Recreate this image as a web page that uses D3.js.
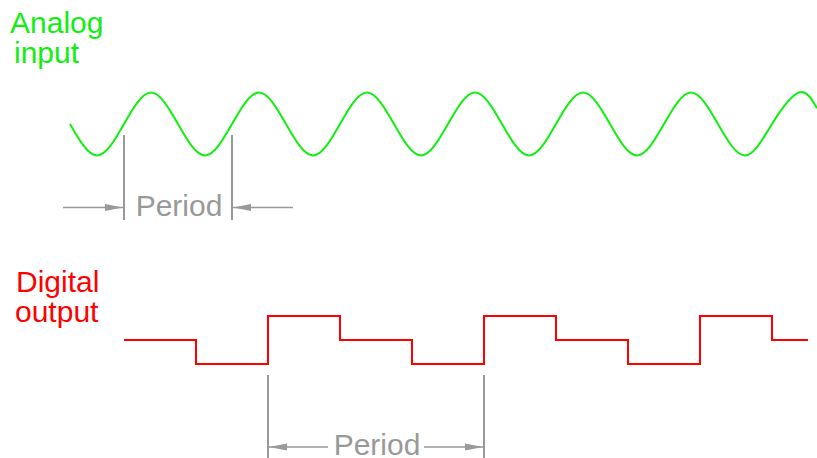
<!DOCTYPE html>
<html>
<head>
<meta charset="utf-8">
<script src="https://cdn.jsdelivr.net/npm/d3@7"></script>
<style>
  html, body { margin: 0; padding: 0; background: #fff; }
  svg { display: block; }
  text { font-family: "Liberation Sans", Arial, Helvetica, sans-serif; }
</style>
</head>
<body>
<svg id="chart" width="817" height="458"></svg>
<script>
// ---- data (time in units; sine quarter-period = 3 units, sample step = 8 units) ----
const analogTime   = [0,3,6,9,12,15,18,21,24,27,30,33,36,39,42,45,48,51,54,57,60,63,66,69,72,75,78,81,83];
const analogValue  = [0,-1,0,1,0,-1,0,1,0,-1,0,1,0,-1,0,1,0,-1,0,1,0,-1,0,1,0,-1,0,1,0.5];
const digitalTime  = [6,14,22,30,38,46,54,62,70,78,82];
const digitalValue = [0,-1,1,0,-1,1,0,-1,1,0,0];
const analogPeriod  = [6, 18];
const digitalPeriod = [22, 46];
const labels = { analog: ["Analog", "input"], digital: ["Digital", "output"], period: "Period" };

const GREEN = "#11ee11", RED = "#ff0000", GRAY = "#999999";

const svg = d3.select("#chart");
const x = d3.scaleLinear().domain([0, 83]).range([70, 817]);
const yA = d3.scaleLinear().domain([-1, 1]).range([155.5, 92.5]);
const yD = d3.scaleLinear().domain([-1, 1]).range([364, 316]);

const defs = svg.append("defs");
defs.append("marker").attr("id", "arrow")
  .attr("viewBox", "0 0 18 8").attr("refX", 18).attr("refY", 4)
  .attr("markerWidth", 18).attr("markerHeight", 8)
  .attr("markerUnits", "userSpaceOnUse").attr("orient", "auto")
  .append("path").attr("d", "M0,0.6 L18,4 L0,7.4 Z").attr("fill", GRAY);

// analog sine
const aPts = analogTime.map((t, i) => [t, analogValue[i]]);
svg.append("path")
  .attr("d", d3.line().x(d => x(d[0])).y(d => yA(d[1])).curve(d3.curveNatural)(aPts))
  .attr("fill", "none").attr("stroke", GREEN).attr("stroke-width", 2);

// digital steps
const dPts = digitalTime.map((t, i) => [t, digitalValue[i]]);
svg.append("path")
  .attr("d", d3.line().x(d => x(d[0])).y(d => yD(d[1])).curve(d3.curveStepAfter)(dPts))
  .attr("fill", "none").attr("stroke", RED).attr("stroke-width", 2);

// labels
const FS = 30;
const lab = (txt, lx, ly, col) => svg.append("text").attr("x", lx).attr("y", ly)
  .attr("font-size", FS).attr("fill", col).text(txt);
lab(labels.analog[0], 10, 33, GREEN);
lab(labels.analog[1], 14, 62.5, GREEN);
lab(labels.digital[0], 16, 292, RED);
lab(labels.digital[1], 15, 322, RED);

// period annotations
function period(p, yTop, yBot, yArrow, outside, textGap) {
  const x0 = x(p[0]), x1 = x(p[1]);
  const g = svg.append("g");
  [x0, x1].forEach(xx => g.append("line").attr("x1", xx).attr("x2", xx)
    .attr("y1", yTop).attr("y2", yBot).attr("stroke", GRAY).attr("stroke-width", 2));
  const mid = (x0 + x1) / 2;
  g.append("text").attr("x", mid + 1).attr("y", yArrow + 8.4)
    .attr("text-anchor", "middle").attr("font-size", FS).attr("fill", GRAY).text(labels.period);
  const arrow = (xa, xb) => g.append("line").attr("x1", xa).attr("x2", xb)
    .attr("y1", yArrow).attr("y2", yArrow).attr("stroke", GRAY).attr("stroke-width", 1.5)
    .attr("marker-end", "url(#arrow)");
  if (outside) {
    arrow(x0 - 61, x0 - 1);
    arrow(x1 + 61, x1 + 1);
  } else {
    arrow(mid - textGap, x0 + 1);
    arrow(mid + textGap, x1 - 1);
  }
}
period(analogPeriod, 135, 220, 207.5, true);
period(digitalPeriod, 375, 458, 447, false, 48);
</script>
</body>
</html>
